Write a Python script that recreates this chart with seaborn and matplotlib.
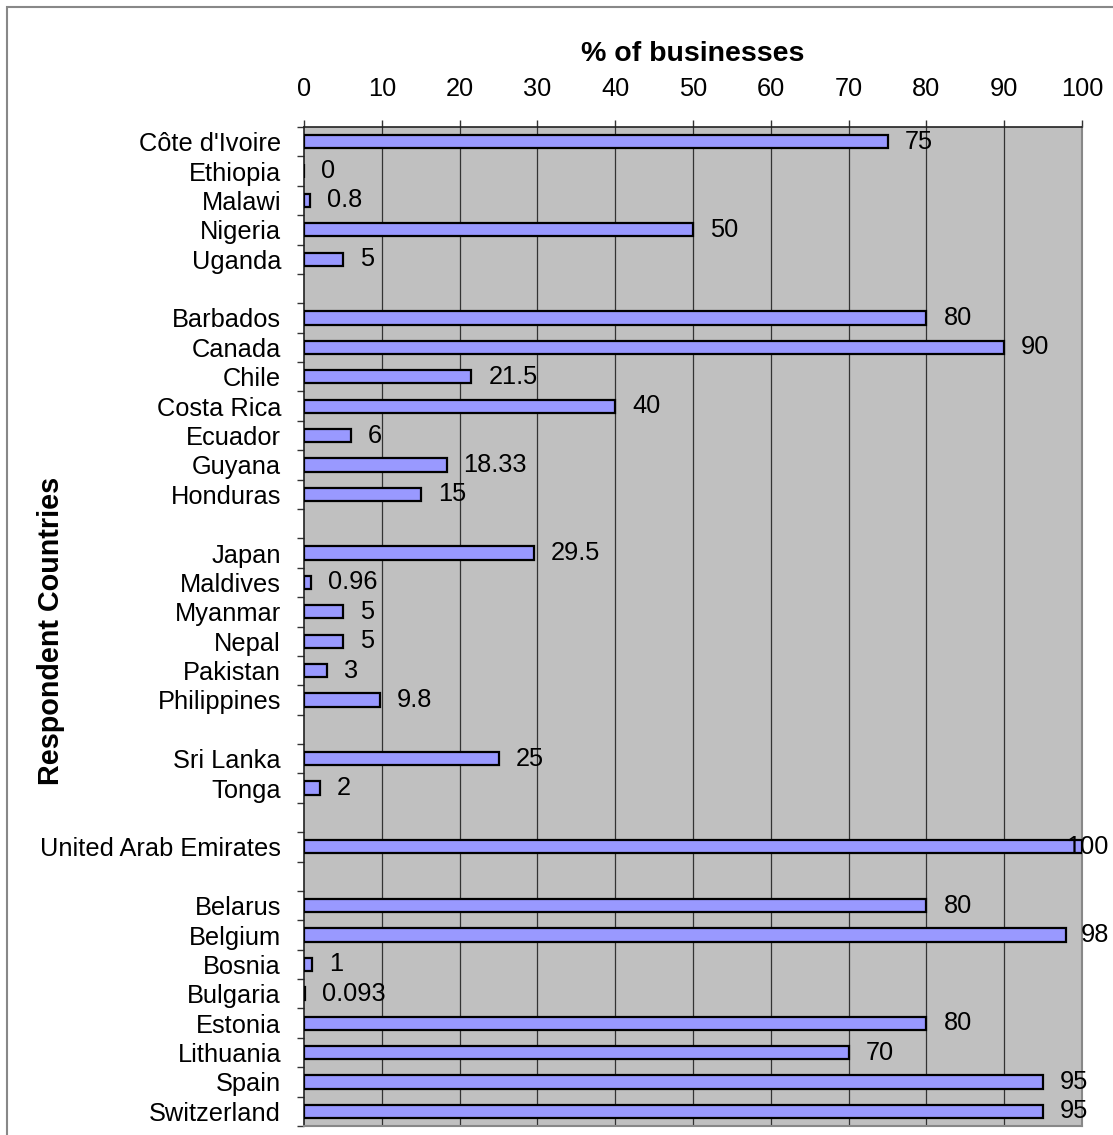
import matplotlib
matplotlib.use("Agg")
import matplotlib.pyplot as plt
import seaborn as sns
import pandas as pd
import numpy as np
from matplotlib.patches import Rectangle
from matplotlib.transforms import offset_copy

# ---- data ----
countries = ["Côte d'Ivoire", "Ethiopia", "Malawi", "Nigeria", "Uganda", "",
             "Barbados", "Canada", "Chile", "Costa Rica", "Ecuador", "Guyana", "Honduras", "",
             "Japan", "Maldives", "Myanmar", "Nepal", "Pakistan", "Philippines", "",
             "Sri Lanka", "Tonga", "",
             "United Arab Emirates", "",
             "Belarus", "Belgium", "Bosnia", "Bulgaria", "Estonia", "Lithuania", "Spain", "Switzerland"]
values = [75, 0, 0.8, 50, 5, None,
          80, 90, 21.5, 40, 6, 18.33, 15, None,
          29.5, 0.96, 5, 5, 3, 9.8, None,
          25, 2, None,
          100, None,
          80, 98, 1, 0.093, 80, 70, 95, 95]
value_labels = ["75", "0", "0.8", "50", "5", "",
                "80", "90", "21.5", "40", "6", "18.33", "15", "",
                "29.5", "0.96", "5", "5", "3", "9.8", "",
                "25", "2", "",
                "100", "",
                "80", "98", "1", "0.093", "80", "70", "95", "95"]
x_ticks = [0, 10, 20, 30, 40, 50, 60, 70, 80, 90, 100]

# unique category keys (blank rows need distinct keys)
keys = [f"r{i:02d}" for i in range(len(countries))]
df = pd.DataFrame({"key": keys, "country": countries,
                   "value": [np.nan if v is None else v for v in values]})

sns.set_theme(style="white")
plt.rcParams['font.family'] = ['Liberation Sans', 'DejaVu Sans']

FS = 18.3

W, H = 1113, 1135
fig = plt.figure(figsize=(W / 100, H / 100), dpi=100)
ax = fig.add_axes([304 / W, 1 - 1126 / H, (1082 - 304) / W, (1126 - 127) / H])

sns.barplot(data=df, x="value", y="key", order=keys, orient="h", ax=ax,
            color="#9999FF", saturation=1, width=0.45,
            edgecolor="black", linewidth=1.6, zorder=3)

ax.set_facecolor("#C0C0C0")
ax.set_xlim(0, 100)
ax.set_ylim(len(keys) - 0.5, -0.5)

# x axis on top
ax.xaxis.tick_top()
ax.xaxis.set_label_position("top")
ax.set_xticks(x_ticks)
ax.set_xticklabels([str(t) for t in x_ticks], fontsize=FS, color="black")
ax.tick_params(axis="x", direction="out", length=5, width=1, color="#333333", pad=13.5, top=True, bottom=False)
ax.set_xlabel("% of businesses", fontsize=20.5, fontweight="bold", labelpad=12, color="black")
for t in x_ticks[1:-1]:
    ax.axvline(t, color="#333333", linewidth=0.9, zorder=1)

# y axis: labels at category centres, ticks at boundaries
ax.set_yticks(range(len(keys)))
ax.set_yticklabels(countries, fontsize=FS, color="black")
ax.tick_params(axis="y", which="major", length=0, pad=16.5)
ax.set_yticks(np.arange(-0.5, len(keys), 1.0), minor=True)
ax.tick_params(axis="y", which="minor", direction="out", length=5, width=1, color="#333333", left=True)
ax.set_ylabel("Respondent Countries", fontsize=20.7, fontweight="bold", labelpad=0, color="black")
ax.yaxis.set_label_coords(-0.307, 0.496)

for side in ["top", "left"]:
    ax.spines[side].set_color("#222222")
    ax.spines[side].set_linewidth(1.2)
for side in ["right", "bottom"]:
    ax.spines[side].set_color("#888888")
    ax.spines[side].set_linewidth(1.5)

# value labels: offset right of bar end, shifted left if they would leave the chart
fig.canvas.draw()
renderer = fig.canvas.get_renderer()
for i, (v, lab) in enumerate(zip(values, value_labels)):
    if v is None:
        continue
    t = ax.text(v, i, lab, va="center", ha="left", fontsize=FS, color="black",
                zorder=5, clip_on=False,
                transform=offset_copy(ax.transData, fig=fig, x=17, y=0, units="dots"))
    bb = t.get_window_extent(renderer)
    limit = W - 4
    if bb.x1 > limit:
        shift = bb.x1 - limit
        t.set_transform(offset_copy(ax.transData, fig=fig, x=17 - shift, y=0, units="dots"))

# outer chart border (partially cropped)
fig.patches.append(Rectangle((7 / W, -0.05), 1.2, 1 - 7 / H + 0.05, transform=fig.transFigure,
                             fill=False, edgecolor="#888888", linewidth=1.5))

fig.savefig("out.png", dpi=100, facecolor="white")
